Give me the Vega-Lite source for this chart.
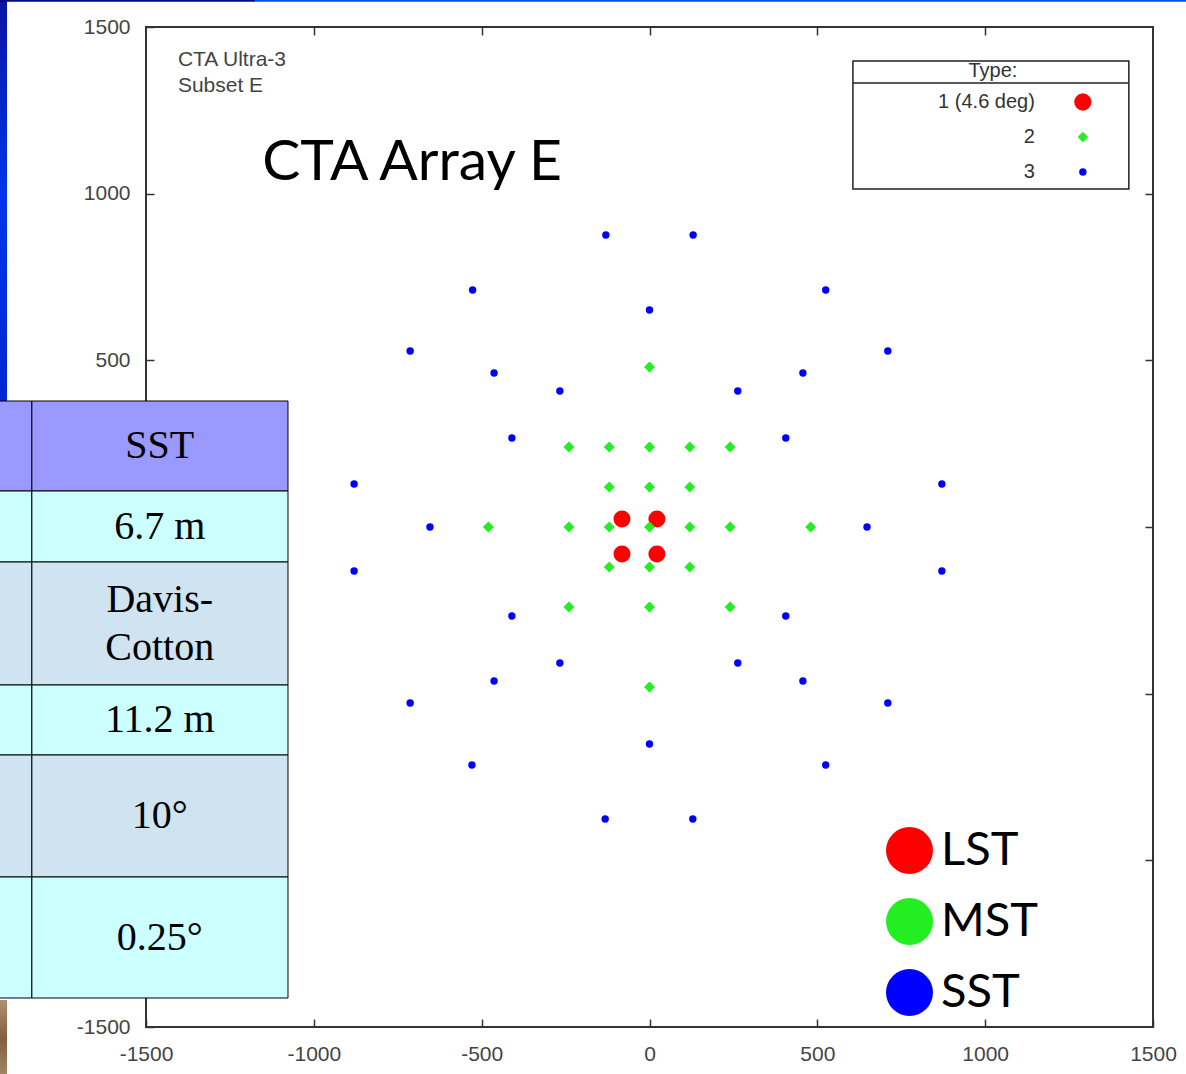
{
  "$schema": "https://vega.github.io/schema/vega-lite/v6.json",
  "width": 1007,
  "height": 1000,
  "autosize": {"type": "none"},
  "padding": {"left": 146, "top": 27, "right": 33, "bottom": 47},
  "background": "white",
  "config": {
    "view": {"stroke": "#333", "strokeWidth": 2},
    "axis": {"grid": false, "domain": false, "tickSize": -8, "tickColor": "#333", "tickWidth": 1.5, "labelFont": "Liberation Sans", "labelFontSize": 21, "labelColor": "#444", "labelPadding": 24, "labelFlush": false, "labelOverlap": false, "title": null, "labelExpr": "'' + datum.value"}
  },
  "resolve": {"axis": {"x": "independent", "y": "independent"}},
  "datasets": {
    "stations": [
      {"x": -82, "y": 24, "telescope": "LST"},
      {"x": 22, "y": 24, "telescope": "LST"},
      {"x": -82, "y": -81, "telescope": "LST"},
      {"x": 22, "y": -81, "telescope": "LST"},
      {"x": 0, "y": 480, "telescope": "MST"},
      {"x": -240, "y": 240, "telescope": "MST"},
      {"x": -120, "y": 240, "telescope": "MST"},
      {"x": 0, "y": 240, "telescope": "MST"},
      {"x": 120, "y": 240, "telescope": "MST"},
      {"x": 240, "y": 240, "telescope": "MST"},
      {"x": -120, "y": 120, "telescope": "MST"},
      {"x": 0, "y": 120, "telescope": "MST"},
      {"x": 120, "y": 120, "telescope": "MST"},
      {"x": -480, "y": 0, "telescope": "MST"},
      {"x": -240, "y": 0, "telescope": "MST"},
      {"x": -120, "y": 0, "telescope": "MST"},
      {"x": 0, "y": 0, "telescope": "MST"},
      {"x": 120, "y": 0, "telescope": "MST"},
      {"x": 240, "y": 0, "telescope": "MST"},
      {"x": 480, "y": 0, "telescope": "MST"},
      {"x": -120, "y": -120, "telescope": "MST"},
      {"x": 0, "y": -120, "telescope": "MST"},
      {"x": 120, "y": -120, "telescope": "MST"},
      {"x": -240, "y": -240, "telescope": "MST"},
      {"x": 0, "y": -240, "telescope": "MST"},
      {"x": 240, "y": -240, "telescope": "MST"},
      {"x": 0, "y": -480, "telescope": "MST"},
      {"x": -130, "y": 876, "telescope": "SST"},
      {"x": 130, "y": 876, "telescope": "SST"},
      {"x": -527, "y": 711, "telescope": "SST"},
      {"x": 525, "y": 711, "telescope": "SST"},
      {"x": 0, "y": 651, "telescope": "SST"},
      {"x": -713, "y": 528, "telescope": "SST"},
      {"x": 710, "y": 528, "telescope": "SST"},
      {"x": -463, "y": 462, "telescope": "SST"},
      {"x": 457, "y": 462, "telescope": "SST"},
      {"x": -267, "y": 408, "telescope": "SST"},
      {"x": 263, "y": 408, "telescope": "SST"},
      {"x": -410, "y": 267, "telescope": "SST"},
      {"x": 406, "y": 267, "telescope": "SST"},
      {"x": -880, "y": 129, "telescope": "SST"},
      {"x": 871, "y": 129, "telescope": "SST"},
      {"x": -654, "y": 0, "telescope": "SST"},
      {"x": 648, "y": 0, "telescope": "SST"},
      {"x": -880, "y": -132, "telescope": "SST"},
      {"x": 871, "y": -132, "telescope": "SST"},
      {"x": -410, "y": -267, "telescope": "SST"},
      {"x": 406, "y": -267, "telescope": "SST"},
      {"x": -267, "y": -408, "telescope": "SST"},
      {"x": 263, "y": -408, "telescope": "SST"},
      {"x": -463, "y": -462, "telescope": "SST"},
      {"x": 457, "y": -462, "telescope": "SST"},
      {"x": -713, "y": -528, "telescope": "SST"},
      {"x": 710, "y": -528, "telescope": "SST"},
      {"x": 0, "y": -651, "telescope": "SST"},
      {"x": -529, "y": -714, "telescope": "SST"},
      {"x": 525, "y": -714, "telescope": "SST"},
      {"x": -132, "y": -876, "telescope": "SST"},
      {"x": 129, "y": -876, "telescope": "SST"}
    ],
    "table": [
      {"cell": "SST", "top": 378, "bottom": 108, "mid": 243, "kind": "head"},
      {"cell": "6.7 m", "top": 108, "bottom": -105, "mid": 1, "kind": "cyan"},
      {"cell": "Davis-\nCotton", "top": -105, "bottom": -474, "mid": -219, "kind": "blue"},
      {"cell": "11.2 m", "top": -474, "bottom": -684, "mid": -579, "kind": "cyan"},
      {"cell": "10°", "top": -684, "bottom": -1050, "mid": -867, "kind": "blue"},
      {"cell": "0.25°", "top": -1050, "bottom": -1413, "mid": -1232, "kind": "cyan"}
    ]
  },
  "layer": [
    {
      "data": {"values": [{}]},
      "mark": {"type": "rect", "clip": false, "fill": {"gradient": "linear", "x1": 0, "y1": 0, "x2": 0, "y2": 1, "stops": [{"offset": 0, "color": "#0a14a0"}, {"offset": 0.5, "color": "#0036ea"}, {"offset": 1, "color": "#0026d0"}]}},
      "encoding": {
        "x": {"datum": -1940, "scale": {"domain": [-1500, 1500], "nice": false, "zero": false}, "axis": null},
        "x2": {"datum": -1914},
        "y": {"datum": 1590, "scale": {"domain": [-1500, 1500], "nice": false, "zero": false}, "axis": null},
        "y2": {"datum": 378}
      }
    },
    {
      "data": {"values": [{}]},
      "mark": {"type": "rect", "clip": false, "fill": "#000c80"},
      "encoding": {
        "x": {"datum": -1940, "scale": {"domain": [-1500, 1500], "nice": false, "zero": false}, "axis": null},
        "x2": {"datum": -1175},
        "y": {"datum": 1590, "scale": {"domain": [-1500, 1500], "nice": false, "zero": false}, "axis": null},
        "y2": {"datum": 1576}
      }
    },
    {
      "data": {"values": [{}]},
      "mark": {"type": "rect", "clip": false, "fill": "#0050f0"},
      "encoding": {
        "x": {"datum": -1175, "scale": {"domain": [-1500, 1500], "nice": false, "zero": false}, "axis": null},
        "x2": {"datum": 1610},
        "y": {"datum": 1590, "scale": {"domain": [-1500, 1500], "nice": false, "zero": false}, "axis": null},
        "y2": {"datum": 1576}
      }
    },
    {
      "data": {"values": [{}]},
      "mark": {"type": "rect", "clip": false, "fill": {"gradient": "linear", "x1": 0, "y1": 0, "x2": 0, "y2": 1, "stops": [{"offset": 0, "color": "#b09070"}, {"offset": 0.5, "color": "#806040"}, {"offset": 1, "color": "#a08868"}]}},
      "encoding": {
        "x": {"datum": -1940, "scale": {"domain": [-1500, 1500], "nice": false, "zero": false}, "axis": null},
        "x2": {"datum": -1914},
        "y": {"datum": -1419, "scale": {"domain": [-1500, 1500], "nice": false, "zero": false}, "axis": null},
        "y2": {"datum": -1650}
      }
    },
    {
      "data": {"name": "stations"},
      "mark": {"type": "point", "filled": true, "opacity": 1, "strokeWidth": 0},
      "encoding": {
        "x": {"field": "x", "type": "quantitative", "scale": {"domain": [-1500, 1500], "nice": false, "zero": false}, "axis": {"orient": "bottom", "values": [-1500, -1000, -500, 0, 500, 1000, 1500]}},
        "y": {"field": "y", "type": "quantitative", "scale": {"domain": [-1500, 1500], "nice": false, "zero": false}, "axis": {"orient": "left", "values": [-1500, -1000, -500, 0, 500, 1000, 1500]}},
        "fill": {
          "field": "telescope", "type": "nominal",
          "scale": {"domain": ["LST", "MST", "SST"], "range": ["#ff0000", "#22ee22", "#0000ff"]},
          "legend": {"title": null, "orient": "none", "legendX": 740, "legendY": 800, "padding": 0, "symbolType": "circle", "symbolSize": 2209, "symbolStrokeWidth": 0, "labelFont": "Lato", "labelFontSize": 47, "labelColor": "#000", "labelOffset": 8, "rowPadding": 23}
        },
        "shape": {"condition": {"test": "datum.telescope === 'MST'", "value": "diamond"}, "value": "circle"},
        "size": {"condition": [{"test": "datum.telescope === 'LST'", "value": 289}, {"test": "datum.telescope === 'MST'", "value": 120}], "value": 55}
      }
    },
    {
      "data": {"name": "stations"},
      "mark": {"type": "point", "opacity": 0},
      "encoding": {
        "x": {"field": "x", "type": "quantitative", "scale": {"domain": [-1500, 1500], "nice": false, "zero": false}, "axis": {"orient": "top", "values": [-1000, -500, 0, 500, 1000], "labels": false}},
        "y": {"field": "y", "type": "quantitative", "scale": {"domain": [-1500, 1500], "nice": false, "zero": false}, "axis": {"orient": "right", "values": [-1000, -500, 0, 500, 1000], "labels": false}}
      }
    },
    {
      "data": {"name": "table"},
      "mark": {"type": "rect", "clip": false, "stroke": "#000", "strokeWidth": 1},
      "encoding": {
        "x": {"datum": -1990, "scale": {"domain": [-1500, 1500], "nice": false, "zero": false}, "axis": null},
        "x2": {"datum": -1840},
        "y": {"field": "top", "type": "quantitative", "scale": {"domain": [-1500, 1500], "nice": false, "zero": false}, "axis": null},
        "y2": {"field": "bottom"},
        "fill": {"condition": [{"test": "datum.kind === 'head'", "value": "#9999ff"}, {"test": "datum.kind === 'blue'", "value": "#cfe3f1"}], "value": "#ccffff"}
      }
    },
    {
      "data": {"name": "table"},
      "mark": {"type": "rect", "clip": false, "stroke": "#000", "strokeWidth": 1},
      "encoding": {
        "x": {"datum": -1840, "scale": {"domain": [-1500, 1500], "nice": false, "zero": false}, "axis": null},
        "x2": {"datum": -1077},
        "y": {"field": "top", "type": "quantitative", "scale": {"domain": [-1500, 1500], "nice": false, "zero": false}, "axis": null},
        "y2": {"field": "bottom"},
        "fill": {"condition": [{"test": "datum.kind === 'head'", "value": "#9999ff"}, {"test": "datum.kind === 'blue'", "value": "#cfe3f1"}], "value": "#ccffff"}
      }
    },
    {
      "data": {"name": "table"},
      "mark": {"type": "text", "clip": false, "font": "Liberation Serif", "fontSize": 40, "color": "#000", "align": "center", "baseline": "middle", "lineBreak": "\n", "lineHeight": 48},
      "encoding": {
        "x": {"datum": -1459, "scale": {"domain": [-1500, 1500], "nice": false, "zero": false}, "axis": null},
        "y": {"field": "mid", "type": "quantitative", "scale": {"domain": [-1500, 1500], "nice": false, "zero": false}, "axis": null},
        "text": {"field": "cell"}
      }
    },
    {
      "data": {"values": [{}]},
      "mark": {"type": "rect", "clip": false, "fill": "white", "stroke": "#222", "strokeWidth": 1.5},
      "encoding": {
        "x": {"datum": 606, "scale": {"domain": [-1500, 1500], "nice": false, "zero": false}, "axis": null},
        "x2": {"datum": 1428},
        "y": {"datum": 1398, "scale": {"domain": [-1500, 1500], "nice": false, "zero": false}, "axis": null},
        "y2": {"datum": 1014}
      }
    },
    {
      "data": {"values": [{}]},
      "mark": {"type": "rule", "clip": false, "color": "#222", "strokeWidth": 1.5},
      "encoding": {
        "x": {"datum": 606, "scale": {"domain": [-1500, 1500], "nice": false, "zero": false}, "axis": null},
        "x2": {"datum": 1428},
        "y": {"datum": 1332, "scale": {"domain": [-1500, 1500], "nice": false, "zero": false}, "axis": null}
      }
    },
    {
      "data": {"values": [{}]},
      "mark": {"type": "text", "clip": false, "font": "Liberation Sans", "fontSize": 20, "color": "#333", "align": "center", "baseline": "middle", "text": "Type:"},
      "encoding": {
        "x": {"datum": 1023, "scale": {"domain": [-1500, 1500], "nice": false, "zero": false}, "axis": null},
        "y": {"datum": 1368, "scale": {"domain": [-1500, 1500], "nice": false, "zero": false}, "axis": null}
      }
    },
    {
      "data": {"values": [{}]},
      "mark": {"type": "text", "clip": false, "font": "Liberation Sans", "fontSize": 20, "color": "#333", "align": "right", "baseline": "middle", "lineHeight": 35, "text": ["1 (4.6 deg)", "2", "3"]},
      "encoding": {
        "x": {"datum": 1148, "scale": {"domain": [-1500, 1500], "nice": false, "zero": false}, "axis": null},
        "y": {"datum": 1275, "scale": {"domain": [-1500, 1500], "nice": false, "zero": false}, "axis": null}
      }
    },
    {
      "data": {"values": [{}]},
      "mark": {"type": "point", "filled": true, "clip": false, "fill": "#ff0000", "opacity": 1, "strokeWidth": 0, "shape": "circle", "size": 300},
      "encoding": {
        "x": {"datum": 1291, "scale": {"domain": [-1500, 1500], "nice": false, "zero": false}, "axis": null},
        "y": {"datum": 1275, "scale": {"domain": [-1500, 1500], "nice": false, "zero": false}, "axis": null}
      }
    },
    {
      "data": {"values": [{}]},
      "mark": {"type": "point", "filled": true, "clip": false, "fill": "#22ee22", "opacity": 1, "strokeWidth": 0, "shape": "diamond", "size": 110},
      "encoding": {
        "x": {"datum": 1291, "scale": {"domain": [-1500, 1500], "nice": false, "zero": false}, "axis": null},
        "y": {"datum": 1170, "scale": {"domain": [-1500, 1500], "nice": false, "zero": false}, "axis": null}
      }
    },
    {
      "data": {"values": [{}]},
      "mark": {"type": "point", "filled": true, "clip": false, "fill": "#0000ff", "opacity": 1, "strokeWidth": 0, "shape": "circle", "size": 55},
      "encoding": {
        "x": {"datum": 1291, "scale": {"domain": [-1500, 1500], "nice": false, "zero": false}, "axis": null},
        "y": {"datum": 1065, "scale": {"domain": [-1500, 1500], "nice": false, "zero": false}, "axis": null}
      }
    },
    {
      "data": {"values": [{}]},
      "mark": {"type": "text", "clip": false, "font": "Liberation Sans", "fontSize": 21, "color": "#444", "align": "left", "baseline": "middle", "lineHeight": 26, "text": ["CTA Ultra-3", "Subset E"]},
      "encoding": {
        "x": {"datum": -1405, "scale": {"domain": [-1500, 1500], "nice": false, "zero": false}, "axis": null},
        "y": {"datum": 1401, "scale": {"domain": [-1500, 1500], "nice": false, "zero": false}, "axis": null}
      }
    },
    {
      "data": {"values": [{}]},
      "mark": {"type": "text", "clip": false, "font": "Lato", "fontSize": 57, "color": "#000", "align": "left", "baseline": "alphabetic", "text": "CTA Array E"},
      "encoding": {
        "x": {"datum": -1154, "scale": {"domain": [-1500, 1500], "nice": false, "zero": false}, "axis": null},
        "y": {"datum": 1041, "scale": {"domain": [-1500, 1500], "nice": false, "zero": false}, "axis": null}
      }
    }
  ]
}
